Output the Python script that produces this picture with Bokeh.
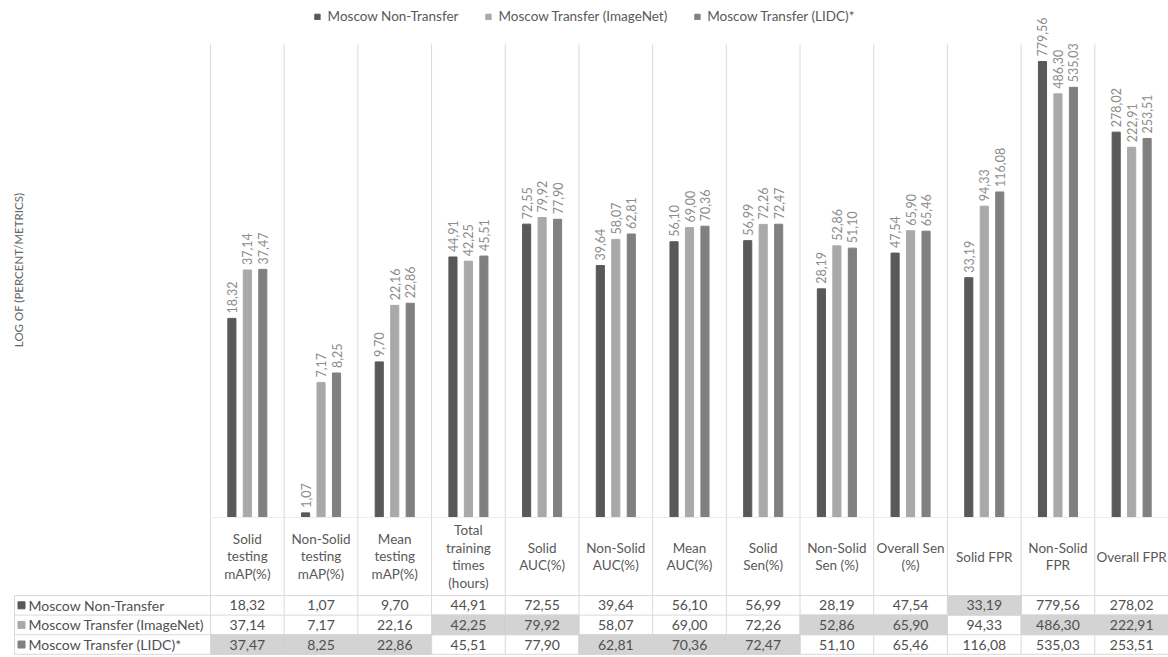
import math
from bokeh.plotting import figure
from bokeh.layouts import column
from bokeh.models import Range1d, ColumnDataSource, Legend, LegendItem
from bokeh.core.properties import value
from bokeh.embed import file_html
from bokeh.resources import INLINE

# ---- data ---------------------------------------------------------------
categories = [
    "Solid\ntesting\nmAP(%)", "Non-Solid\ntesting\nmAP(%)", "Mean\ntesting\nmAP(%)",
    "Total\ntraining\ntimes\n(hours)", "Solid\nAUC(%)", "Non-Solid\nAUC(%)",
    "Mean\nAUC(%)", "Solid\nSen(%)", "Non-Solid\nSen (%)", "Overall Sen\n(%)",
    "Solid FPR", "Non-Solid\nFPR", "Overall FPR",
]
series_names = ["Moscow Non-Transfer", "Moscow Transfer (ImageNet)", "Moscow Transfer (LIDC)*"]
non_transfer = [18.32, 1.07, 9.70, 44.91, 72.55, 39.64, 56.10, 56.99, 28.19, 47.54, 33.19, 779.56, 278.02]
transfer_imagenet = [37.14, 7.17, 22.16, 42.25, 79.92, 58.07, 69.00, 72.26, 52.86, 65.90, 94.33, 486.30, 222.91]
transfer_lidc = [37.47, 8.25, 22.86, 45.51, 77.90, 62.81, 70.36, 72.47, 51.10, 65.46, 116.08, 535.03, 253.51]
# index of the series with the best result for each metric (shaded in the table)
best_series = [2, 2, 2, 1, 1, 2, 2, 2, 1, 1, 0, 1, 1]
y_title = "LOG OF (PERCENT/METRICS)"

series_values = [non_transfer, transfer_imagenet, transfer_lidc]
colors = ["#595959", "#a9a9a9", "#808080"]
offsets = [-0.21, 0.0, 0.21]
BAR_W = 0.11

FONT = value("Lato")
W = 1168
PLOT_LEFT = 210          # px where the category area begins
BAR_H = 517              # height of the bar panel (baseline at its bottom)
TOP_PAD = 44             # px above the 1000 line
TABLE_H = 140
N = len(categories)
CAT_PX = (W - PLOT_LEFT) / N
px = 1.0 / CAT_PX        # one pixel in category units

x_range = Range1d(-PLOT_LEFT * px, N)
y_top = 10 ** (3 * BAR_H / (BAR_H - TOP_PAD))


def fmt(v):
    return f"{v:.2f}".replace(".", ",")


# ---- bar panel ------------------------------------------------------------
p = figure(width=W, height=BAR_H, x_range=x_range, y_range=Range1d(1, y_top),
           y_axis_type="log", x_axis_location=None, y_axis_location=None,
           output_backend="svg", toolbar_location=None, title=None,
           min_border_left=0, min_border_right=0, min_border_top=0, min_border_bottom=0)
p.outline_line_color = None
p.xgrid.visible = False
p.ygrid.visible = False
p.background_fill_color = "white"

sep = ColumnDataSource(dict(x=list(range(N + 1)), y0=[1] * (N + 1), y1=[1000] * (N + 1)))
p.segment(x0="x", y0="y0", x1="x", y1="y1", source=sep, line_color="#d9d9d9", line_width=1)

legend_items = []
for k, vals in enumerate(series_values):
    src = ColumnDataSource(dict(
        x=[i + 0.5 + offsets[k] for i in range(N)],
        top=vals,
        label=[fmt(v) for v in vals],
    ))
    r = p.vbar(x="x", top="top", bottom=1, width=BAR_W, source=src,
               fill_color=colors[k], line_color=colors[k])
    p.text(x="x", y="top", text="label", source=src, angle=math.pi / 2,
           text_align="left", text_baseline="middle", y_offset=-5,
           text_font=FONT, text_font_size="12.5px", text_color="#8c8c8c")
    legend_items.append(LegendItem(label=series_names[k], renderers=[r]))

legend = Legend(items=legend_items, location="top_center", orientation="horizontal",
                glyph_width=7, glyph_height=7, label_standoff=7, spacing=26,
                label_text_font="Lato", label_text_font_size="13.5px",
                label_text_color="#595959", border_line_color=None,
                background_fill_alpha=0, margin=8, padding=2)
p.add_layout(legend, "center")

p.text(x=[-PLOT_LEFT * px + 18 * px], y=[10 ** 1.57], text=[y_title], angle=math.pi / 2,
       text_align="center", text_baseline="middle", text_font=FONT,
       text_font_size="11.5px", text_color="#666666")

# ---- data table ---------------------------------------------------------
HEAD_H = 78
ROW_H = 19.6
table_left = -PLOT_LEFT * px + 14 * px
rows_top = [HEAD_H + j * ROW_H for j in range(3)]
table_bottom = HEAD_H + 3 * ROW_H

t = figure(width=W, height=TABLE_H, x_range=x_range, y_range=Range1d(TABLE_H, 0),
           x_axis_location=None, y_axis_location=None,
           output_backend="svg", toolbar_location=None, title=None,
           min_border_left=0, min_border_right=0, min_border_top=0, min_border_bottom=0)
t.outline_line_color = None
t.xgrid.visible = False
t.ygrid.visible = False

hl = ColumnDataSource(dict(
    left=[float(i) for i in range(N)],
    right=[float(i + 1) for i in range(N)],
    top=[rows_top[best_series[i]] for i in range(N)],
    bottom=[rows_top[best_series[i]] + ROW_H for i in range(N)],
))
t.quad(left="left", right="right", top="top", bottom="bottom", source=hl,
       fill_color="#d3d3d3", line_color="#c4c4c4", line_width=1)

grid = "#d9d9d9"
t.segment(x0=list(range(N + 1)), y0=[0] * (N + 1), x1=list(range(N + 1)),
          y1=[table_bottom] * (N + 1), line_color=grid)
t.segment(x0=[table_left], y0=[HEAD_H], x1=[table_left], y1=[table_bottom], line_color=grid)
t.segment(x0=[0], y0=[0], x1=[N], y1=[0], line_color=grid)
t.segment(x0=[table_left] * 4, y0=[HEAD_H] + [r + ROW_H for r in rows_top],
          x1=[N] * 4, y1=[HEAD_H] + [r + ROW_H for r in rows_top], line_color=grid)

t.text(x=[i + 0.5 for i in range(N)], y=[HEAD_H / 2] * N, text=categories,
       text_align="center", text_baseline="middle", text_line_height=1.1,
       text_font=FONT, text_font_size="13.5px", text_color="#595959")

for k, vals in enumerate(series_values):
    yc = rows_top[k] + ROW_H / 2
    t.text(x=[i + 0.5 for i in range(N)], y=[yc] * N, text=[fmt(v) for v in vals],
           text_align="center", text_baseline="middle",
           text_font=FONT, text_font_size="14px", text_color="#505050")
    t.rect(x=[table_left + 7 * px], y=[yc], width=7 * px, height=7,
           fill_color=colors[k], line_color=colors[k])
    t.text(x=[table_left + 14 * px], y=[yc], text=[series_names[k]],
           text_align="left", text_baseline="middle",
           text_font=FONT, text_font_size="14px", text_color="#505050")

layout = column(p, t, spacing=0)
open("out.html", "w").write(file_html(layout, INLINE))
